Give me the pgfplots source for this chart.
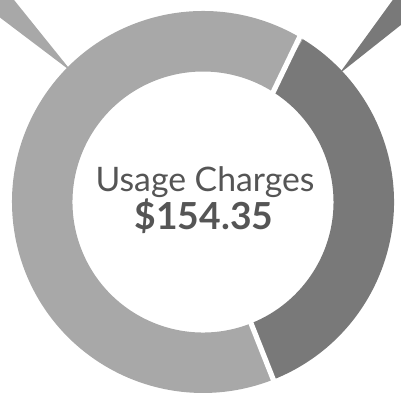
\documentclass[border=0pt]{standalone}
\usepackage{pgfplots}
\usepackage{pgfplotstable}
\pgfplotsset{compat=1.18}
\usepackage{fontspec}
\setmainfont{Lato}
\definecolor{lightseg}{RGB}{168,168,168}
\definecolor{darkseg}{RGB}{121,121,121}
\definecolor{txt}{RGB}{85,85,85}
\pgfplotstableread{
label share
Other 64.75
Usage 35.25
}\shares
\begin{document}
\begin{tikzpicture}
\pgfplotstablegetelem{0}{share}\of\shares \let\shareA\pgfplotsretval
\pgfplotstablegetelem{1}{share}\of\shares \let\shareB\pgfplotsretval
\pgfmathsetmacro{\startB}{-68.4}
\pgfmathsetmacro{\endB}{\startB+3.6*\shareB}
\pgfmathsetmacro{\endA}{\endB+3.6*\shareA}
\def\Ro{191}\def\Ri{130.5}
\begin{axis}[
  x=0.025cm, y=0.025cm,
  xmin=-203, xmax=198, ymin=-200, ymax=202,
  hide axis, clip=true,
]
\path (rel axis cs:0,0) rectangle (rel axis cs:1,1);
% callout wedges
\addplot[fill=lightseg, draw=none] coordinates {(-131,130) (-197,212) (-215,212) (-213,192)};
\addplot[fill=darkseg, draw=none] coordinates {(136,128) (197,212) (210,212) (208,185)};
% donut segments
\fill[darkseg] (axis cs:{\Ro*cos(\startB)},{\Ro*sin(\startB)}) arc[start angle=\startB, end angle=\endB, radius=\Ro*0.025cm]
  -- (axis cs:{\Ri*cos(\endB)},{\Ri*sin(\endB)}) arc[start angle=\endB, end angle=\startB, radius=\Ri*0.025cm] -- cycle;
\fill[lightseg] (axis cs:{\Ro*cos(\endB)},{\Ro*sin(\endB)}) arc[start angle=\endB, end angle=\endA, radius=\Ro*0.025cm]
  -- (axis cs:{\Ri*cos(\endA)},{\Ri*sin(\endA)}) arc[start angle=\endA, end angle=\endB, radius=\Ri*0.025cm] -- cycle;
% separators
\draw[white, line width=0.13cm] (axis cs:{(\Ri-3)*cos(\startB)},{(\Ri-3)*sin(\startB)}) -- (axis cs:{(\Ro+3)*cos(\startB)},{(\Ro+3)*sin(\startB)});
\draw[white, line width=0.13cm] (axis cs:{(\Ri-3)*cos(\endB-1.2)},{(\Ri-3)*sin(\endB-1.2)}) -- (axis cs:{(\Ro+3)*cos(\endB+1.2)},{(\Ro+3)*sin(\endB+1.2)});
% centre labels
\node[anchor=base, text=txt, font=\fontsize{24}{27}\selectfont, inner sep=0pt] at (axis cs:2,10) {Usage Charges};
\node[anchor=base, text=txt, font=\fontsize{26.5}{29}\selectfont\bfseries, inner sep=0pt] at (axis cs:1,-28) {\$154.35};
\end{axis}
\end{tikzpicture}
\end{document}
